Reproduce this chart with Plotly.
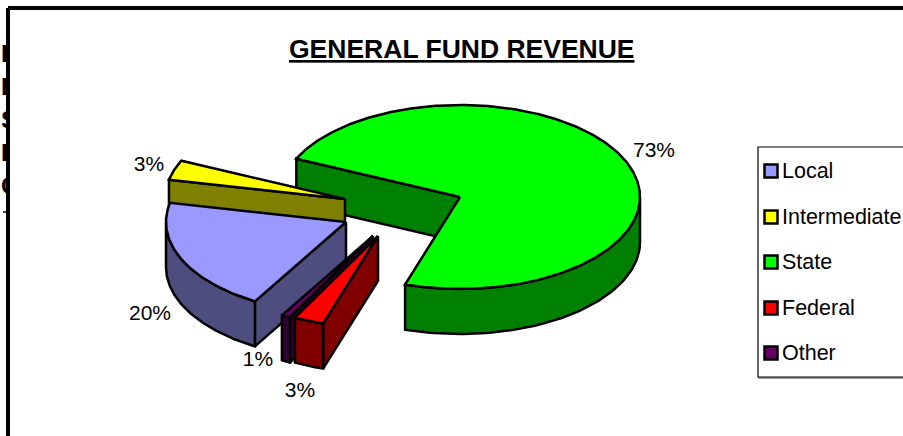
import numpy as np
import plotly.graph_objects as go

# ---- data ----
categories = ["Local", "Intermediate", "State", "Federal", "Other"]
values = [19.9, 3.49, 73.1, 2.7, 0.81]
value_labels = ["20%", "3%", "73%", "3%", "1%"]
top_colors = ["#9999FF", "#FFFF00", "#00FF00", "#FF0000", "#660066"]
side_colors = ["#4D4D80", "#808000", "#008000", "#800000", "#330033"]

# ---- layout constants (pixels) ----
W, H = 903, 436
RX, RY, DEPTH = 180.0, 92.0, 45.0
FIRST_ANGLE = 239.6                   # Local begins here, running clockwise
apex = {"Local": (346, 222), "Intermediate": (345, 199), "State": (460, 197),
        "Federal": (378, 236), "Other": (373, 236)}
label_pos = {"Local": (150, 313), "Intermediate": (149, 164), "State": (654, 150),
             "Federal": (300, 390), "Other": (258, 359)}
draw_order = ["State", "Intermediate", "Local", "Other", "Federal"]
LINE = 2.5
FONT = "Liberation Sans, Arial, sans-serif"

# angular span of each slice, clockwise from the start angle
spans = {}
a = FIRST_ANGLE
for c, v in zip(categories, values):
    spans[c] = (a, a - v * 3.6)
    a -= v * 3.6


def rim(cx, cy, deg):
    t = np.radians(deg)
    return cx + RX * np.cos(t), cy - RY * np.sin(t)


def poly(fig, xs, ys, fill):
    xs, ys = list(xs), list(ys)
    fig.add_trace(go.Scatter(x=xs + xs[:1], y=ys + ys[:1], mode="lines", fill="toself",
                             fillcolor=fill, line=dict(color="black", width=LINE),
                             hoverinfo="skip", showlegend=False))


fig = go.Figure()

# clipped text showing at the left of the frame, behind the chart's white area
fragments = ["<b>E</b>", "<b>E</b>", "<b>S</b>", "<b>E</b>", "<b>C</b>"]
frag_y = [56, 89, 122, 155, 188]
fig.add_trace(go.Scatter(x=[1] * 5, y=frag_y, mode="text", text=fragments,
                         textposition="middle right", hoverinfo="skip", showlegend=False,
                         textfont=dict(family=FONT, size=24, color="black")))
fig.add_trace(go.Scatter(x=[3, 9], y=[212, 212], mode="lines", hoverinfo="skip",
                         showlegend=False, line=dict(color="black", width=1.5)))

# white chart area with its heavy frame (left and top edges show)
fig.add_trace(go.Scatter(x=[8, W + 5, W + 5, 8, 8], y=[8, 8, H + 5, H + 5, 8], mode="lines",
                         fill="toself", fillcolor="white", hoverinfo="skip", showlegend=False,
                         line=dict(color="black", width=4)))

# pie slices, back to front
for name in draw_order:
    i = categories.index(name)
    hi, lo = spans[name]
    cx, cy = apex[name]
    top, side = top_colors[i], side_colors[i]

    # cut faces that look toward the viewer
    for ang, show in ((hi, np.cos(np.radians(hi)) < 0), (lo, np.cos(np.radians(lo)) > 0)):
        if show:
            rx_, ry_ = rim(cx, cy, ang)
            poly(fig, [cx, rx_, rx_, cx], [cy, ry_, ry_ + DEPTH, cy + DEPTH], side)

    # front part of the outer wall (lower half of the ellipse only)
    best = None
    for k in (-360, 0):
        f_hi, f_lo = min(hi, 360 + k), max(lo, 180 + k)
        if f_hi > f_lo:
            best = (f_hi, f_lo)
    if best:
        arc = np.linspace(best[0], best[1], 80)
        px, py = rim(cx, cy, arc)
        poly(fig, np.r_[px, px[::-1]], np.r_[py, py[::-1] + DEPTH], side)

    # top surface
    arc = np.linspace(hi, lo, max(12, int(abs(hi - lo) * 1.5)))
    px, py = rim(cx, cy, arc)
    poly(fig, np.r_[cx, px], np.r_[cy, py], top)

# percentage labels
fig.add_trace(go.Scatter(x=[label_pos[c][0] for c in categories],
                         y=[label_pos[c][1] + 2 for c in categories],
                         mode="text", text=value_labels, textposition="middle center",
                         hoverinfo="skip", showlegend=False,
                         textfont=dict(family=FONT, size=21, color="black")))

# legend box
fig.add_trace(go.Scatter(x=[W + 5, 759, 759, W + 5], y=[378, 378, 148, 148], mode="lines",
                         hoverinfo="skip", showlegend=False, line=dict(color="#808080", width=1.5)))
fig.add_trace(go.Scatter(x=[W + 5, 758, 758, W + 5], y=[377, 377, 147, 147], mode="lines",
                         fill="toself", fillcolor="white", hoverinfo="skip", showlegend=False,
                         line=dict(color="black", width=1.2)))
legend_y = [171, 217, 262, 308, 353]
fig.add_trace(go.Scatter(x=[771] * 5, y=legend_y, mode="markers", hoverinfo="skip", showlegend=False,
                         marker=dict(symbol="square", size=13, color=top_colors,
                                     line=dict(color="black", width=2.5))))
fig.add_trace(go.Scatter(x=[782] * 5, y=[v + 2 for v in legend_y], mode="text", text=categories,
                         textposition="middle right", hoverinfo="skip", showlegend=False,
                         textfont=dict(family=FONT, size=21.5, color="black")))

fig.add_annotation(x=462, y=49, xref="x", yref="y", showarrow=False,
                   text="<u><b>GENERAL FUND REVENUE</b></u>",
                   font=dict(family=FONT, size=26.5, color="black"))

fig.update_xaxes(range=[0, W], visible=False, fixedrange=True)
fig.update_yaxes(range=[H, 0], visible=False, fixedrange=True)
fig.update_layout(width=W, height=H, margin=dict(l=0, r=0, t=0, b=0),
                  paper_bgcolor="white", plot_bgcolor="white", showlegend=False)

fig.write_html("out.html", config={"displayModeBar": False},
               post_script="document.body.style.margin='0';document.body.style.overflow='hidden';")
